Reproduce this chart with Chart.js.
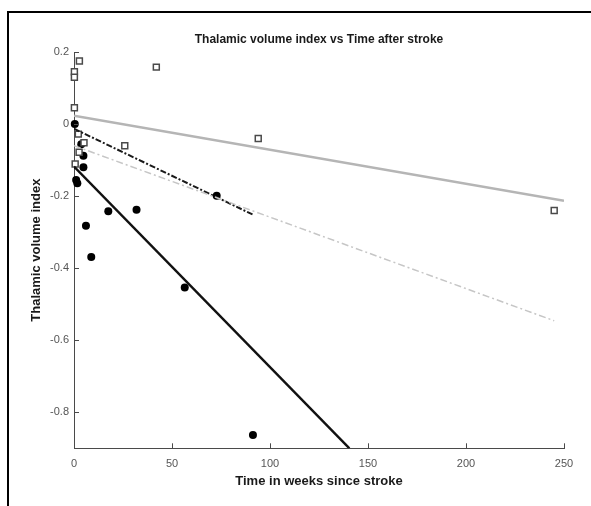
<!DOCTYPE html>
<html>
<head>
<meta charset="utf-8">
<script src="https://cdn.jsdelivr.net/npm/chart.js@4.4.0/dist/chart.umd.min.js"></script>
<style>
  html, body { margin: 0; padding: 0; background: #fff; }
  #wrap { position: relative; width: 591px; height: 506px; overflow: hidden; }
  #frame { position: absolute; left: 7px; top: 11px; width: 600px; height: 600px;
           border-left: 2px solid #000; border-top: 2px solid #000; pointer-events: none; }
  canvas { position: absolute; left: 0; top: 0; }
</style>
</head>
<body>
<div id="wrap">
  <canvas id="c" width="591" height="506"></canvas>
  <div id="frame"></div>
</div>
<script>
// ---- data ----
const titleText = 'Thalamic volume index vs Time after stroke';
const xTitle = 'Time in weeks since stroke';
const yTitle = 'Thalamic volume index';

const xTicks = [0, 50, 100, 150, 200, 250];
const yTicks = [0.2, 0, -0.2, -0.4, -0.6, -0.8];

// open squares (grey)
const squareX = [2.75, 0.2, 0.2, 42, 0.2, 2.2, 5.1, 2.6, 0.6, 25.9, 94, 245];
const squareY = [0.175, 0.145, 0.130, 0.158, 0.045, -0.028, -0.052, -0.078, -0.111, -0.060, -0.040, -0.240];

// filled circles (black)
const circleX = [0.4, 3.7, 4.8, 4.8, 1.1, 1.7, 6.1, 8.8, 17.5, 31.9, 72.8, 56.5, 91.3];
const circleY = [0.0, -0.056, -0.088, -0.120, -0.155, -0.164, -0.282, -0.369, -0.242, -0.238, -0.199, -0.454, -0.863];

// fitted lines (end points)
const fitGreySolidX = [0, 250];
const fitGreySolidY = [0.023, -0.213];
const fitBlackSolidX = [0, 140.5];
const fitBlackSolidY = [-0.118, -0.9];
const fitBlackDashX = [0, 91.5];
const fitBlackDashY = [-0.013, -0.252];
const fitGreyDashX = [0, 245];
const fitGreyDashY = [-0.060, -0.546];

const toPts = (xs, ys) => xs.map((x, i) => ({x: x, y: ys[i]}));

const AXIS = '#4a4a4a';

const inwardTicks = {
  id: 'inwardTicks',
  afterDraw(chart) {
    const {ctx, chartArea, scales} = chart;
    ctx.save();
    ctx.strokeStyle = AXIS;
    ctx.lineWidth = 1;
    ctx.beginPath();
    xTicks.forEach(v => {
      const px = Math.round(scales.x.getPixelForValue(v)) + 0.5;
      ctx.moveTo(px, chartArea.bottom);
      ctx.lineTo(px, chartArea.bottom - 5);
    });
    yTicks.forEach(v => {
      const py = Math.round(scales.y.getPixelForValue(v)) + 0.5;
      ctx.moveTo(chartArea.left, py);
      ctx.lineTo(chartArea.left + 5, py);
    });
    ctx.stroke();
    ctx.restore();
  }
};

new Chart(document.getElementById('c'), {
  type: 'scatter',
  data: {
    datasets: [
      {
        type: 'line', data: toPts(fitGreySolidX, fitGreySolidY),
        borderColor: '#b5b5b5', borderWidth: 2.5, pointRadius: 0, fill: false, order: 1
      },
      {
        type: 'line', data: toPts(fitGreyDashX, fitGreyDashY),
        borderColor: '#c6c6c6', borderWidth: 1.5, borderDash: [7, 3, 2, 3], pointRadius: 0, fill: false, order: 1
      },
      {
        type: 'line', data: toPts(fitBlackDashX, fitBlackDashY),
        borderColor: '#1a1a1a', borderWidth: 2, borderDash: [6, 2, 2, 2], pointRadius: 0, fill: false, order: 1
      },
      {
        type: 'line', data: toPts(fitBlackSolidX, fitBlackSolidY),
        borderColor: '#111', borderWidth: 2.5, pointRadius: 0, fill: false, order: 1
      },
      {
        data: toPts(squareX, squareY), clip: false,
        pointStyle: 'rect', pointRadius: 4.2, pointBorderWidth: 1.5,
        pointBackgroundColor: '#ffffff', pointBorderColor: '#4a4a4a', order: 2
      },
      {
        data: toPts(circleX, circleY), clip: false,
        pointStyle: 'circle', pointRadius: 4, pointBorderWidth: 0,
        pointBackgroundColor: '#000', pointBorderColor: '#000', order: 2
      }
    ]
  },
  options: {
    responsive: false,
    devicePixelRatio: 1,
    animation: false,
    layout: { padding: { left: 0, right: 27, top: 0, bottom: 0 } },
    plugins: {
      legend: { display: false },
      tooltip: { enabled: false },
      title: {
        display: true, text: titleText, fullSize: false,
        color: '#1a1a1a',
        font: { family: 'Liberation Sans, Arial, sans-serif', size: 12, weight: 'bold' },
        padding: { top: 32, bottom: 5.6 }
      }
    },
    scales: {
      x: {
        type: 'linear', min: 0, max: 250,
        afterBuildTicks: s => { s.ticks = xTicks.map(v => ({value: v})); },
        afterFit: s => { s.height = 57.7; },
        grid: { display: true, drawOnChartArea: false, drawTicks: false },
        border: { display: true, color: AXIS, width: 1 },
        ticks: {
          color: '#555', padding: 9,
          font: { family: 'Liberation Sans, Arial, sans-serif', size: 11 },
          callback: v => String(v)
        },
        title: {
          display: true, text: xTitle, color: '#1a1a1a',
          font: { family: 'Liberation Sans, Arial, sans-serif', size: 13, weight: 'bold' },
          padding: { top: 3, bottom: 16.5 }
        }
      },
      y: {
        type: 'linear', min: -0.9, max: 0.2,
        afterBuildTicks: s => { s.ticks = yTicks.map(v => ({value: v})); },
        afterFit: s => { s.width = 74; },
        grid: { display: true, drawOnChartArea: false, drawTicks: false },
        border: { display: true, color: AXIS, width: 1 },
        ticks: {
          color: '#555', padding: 5,
          font: { family: 'Liberation Sans, Arial, sans-serif', size: 11 },
          callback: v => (v === 0 ? '0' : String(Math.round(v * 10) / 10))
        },
        title: {
          display: true, text: yTitle, color: '#1a1a1a',
          font: { family: 'Liberation Sans, Arial, sans-serif', size: 13, weight: 'bold' },
          padding: { top: 28.8, bottom: 4 }
        }
      }
    }
  },
  plugins: [inwardTicks]
});
</script>
</body>
</html>
